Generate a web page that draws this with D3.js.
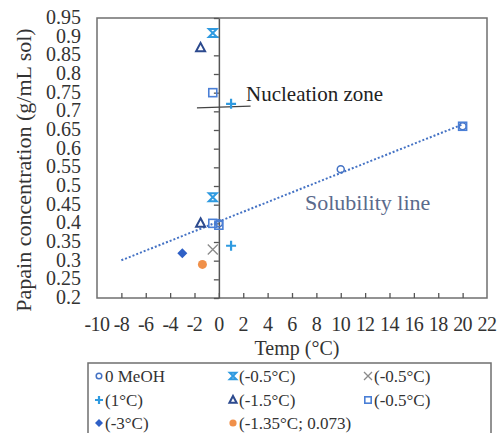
<!DOCTYPE html>
<html>
<head>
<meta charset="utf-8">
<script src="https://cdn.jsdelivr.net/npm/d3@7"></script>
<style>
	body { margin: 0; background: #fff; }
</style>
</head>
<body>
<svg id="chart" width="498" height="433"></svg>
<script>
// data
const meohTemp = [0, 10, 20];
const meohConc = [0.40, 0.545, 0.66];
const trendExtent = [-8, 20];

const bowtiePts = [[-0.5, 0.91], [-0.5, 0.47]];
const plusPts = [[1, 0.72], [1, 0.34]];
const trianglePts = [[-1.5, 0.87], [-1.5, 0.40]];
const squarePts = [[-0.5, 0.75], [-0.5, 0.40], [0, 0.395], [20, 0.66]];
const crossPts = [[-0.5, 0.33]];
const diamondPts = [[-3, 0.32]];
const orangePts = [[-1.35, 0.29]];

const nucleationLine = [[-1.8, 0.709], [2.6, 0.714]];

const xTicks = d3.range(-10, 23, 2);
const yTicks = [0.2, 0.25, 0.3, 0.35, 0.4, 0.45, 0.5, 0.55, 0.6, 0.65, 0.7, 0.75, 0.8, 0.85, 0.9, 0.95];

const legendItems = [
	{label: '0 MeOH', shape: 'circle'},
	{label: '(-0.5°C)', shape: 'bowtie'},
	{label: '(-0.5°C)', shape: 'cross'},
	{label: '(1°C)', shape: 'plus'},
	{label: '(-1.5°C)', shape: 'triangle'},
	{label: '(-0.5°C)', shape: 'square'},
	{label: '(-3°C)', shape: 'diamond'},
	{label: '(-1.35°C; 0.073)', shape: 'orange'}
];

const colors = {
	circle: '#4472c4',
	bowtie: '#2f9ae0',
	cross: '#8a8a8a',
	plus: '#2f9ae0',
	triangle: '#2c4a8e',
	square: '#4a7fd6',
	diamond: '#2f60c6',
	orange: '#f0904a'
};

const svg = d3.select('#chart');
const serif = '"Times New Roman", "Liberation Serif", Tinos, sans-serif';

const plotLeft = 97, plotRight = 487, plotTop = 18, plotBottom = 298;

let x = d3.scaleLinear().domain([-10, 22]).range([plotLeft, plotRight]);
let y = d3.scaleLinear().domain([0.2, 0.95]).range([plotBottom, plotTop]);

// plot frame
svg.append('rect')
	.attr('x', plotLeft).attr('y', plotTop)
	.attr('width', plotRight - plotLeft).attr('height', plotBottom - plotTop)
	.attr('fill', 'none')
	.attr('stroke', '#6f6f6f')
	.attr('stroke-width', 1.5);

// x axis (ticks pointing up, inside)
svg.append('g')
	.attr('transform', `translate(0,${plotBottom})`)
	.call(d3.axisBottom(x).tickValues(xTicks.slice(1, -1)).tickSizeInner(-5).tickSizeOuter(0).tickFormat(''))
	.call(g => g.select('.domain').remove())
	.call(g => g.selectAll('line').attr('stroke', '#555').attr('stroke-width', 1.3));

svg.append('g')
	.selectAll('text')
	.data(xTicks)
	.join('text')
	.attr('x', d => x(d))
	.attr('y', 331)
	.attr('text-anchor', 'middle')
	.style('font-family', serif)
	.style('font-size', '20px')
	.attr('fill', '#333')
	.attr('letter-spacing', -0.6)
	.text(d => d);

// y axis at x = 0
svg.append('g')
	.attr('transform', `translate(${x(0)},0)`)
	.call(d3.axisLeft(y).tickValues(yTicks).tickSizeInner(5).tickSizeOuter(0).tickFormat(''))
	.call(g => g.select('.domain').attr('stroke', '#555').attr('stroke-width', 1.5))
	.call(g => g.selectAll('line').attr('stroke', '#555').attr('stroke-width', 1.3));

svg.append('g')
	.selectAll('text')
	.data(yTicks)
	.join('text')
	.attr('x', 81)
	.attr('y', d => y(d) + 6)
	.attr('text-anchor', 'end')
	.style('font-family', serif)
	.style('font-size', '20px')
	.attr('fill', '#333')
	.text(d => d);

// titles
svg.append('text')
	.attr('x', 297).attr('y', 355)
	.attr('text-anchor', 'middle')
	.style('font-family', serif)
	.style('font-size', '20px')
	.attr('fill', '#333')
	.text('Temp (°C)');

svg.append('text')
	.attr('transform', 'translate(31,170) rotate(-90)')
	.attr('text-anchor', 'middle')
	.style('font-family', serif)
	.style('font-size', '22px')
	.attr('fill', '#333')
	.text('Papain concentration (g/mL sol)');

// trend line (least squares on 0 MeOH points)
const mx = d3.mean(meohTemp), my = d3.mean(meohConc);
const slope = d3.sum(meohTemp, (t, i) => (t - mx) * (meohConc[i] - my)) / d3.sum(meohTemp, t => (t - mx) ** 2);
const intercept = my - slope * mx;

svg.append('line')
	.attr('x1', x(trendExtent[0])).attr('y1', y(intercept + slope * trendExtent[0]))
	.attr('x2', x(trendExtent[1])).attr('y2', y(intercept + slope * trendExtent[1]))
	.attr('stroke', '#4472c4')
	.attr('stroke-width', 2)
	.attr('stroke-dasharray', '2,2');

// nucleation annotation
svg.append('line')
	.attr('x1', x(nucleationLine[0][0])).attr('y1', y(nucleationLine[0][1]))
	.attr('x2', x(nucleationLine[1][0])).attr('y2', y(nucleationLine[1][1]))
	.attr('stroke', '#444')
	.attr('stroke-width', 1.3);

svg.append('text')
	.attr('x', 246).attr('y', 101)
	.style('font-family', serif)
	.style('font-size', '21px')
	.attr('fill', '#222')
	.text('Nucleation zone');

svg.append('text')
	.attr('x', 305).attr('y', 210)
	.style('font-family', serif)
	.style('font-size', '22px')
	.attr('fill', '#5a6a8c')
	.text('Solubility line');

// marker drawing
function drawMarker(g, shape, s) {
	let c = colors[shape];
	if (shape === 'circle') {
		g.append('circle').attr('r', 3.5 * s).attr('fill', 'none').attr('stroke', c).attr('stroke-width', 1.5);
	} else if (shape === 'bowtie') {
		g.append('path')
			.attr('d', `M${-4*s},${-4*s}L${4*s},${-4*s}L${-4*s},${4*s}L${4*s},${4*s}Z`)
			.attr('fill', 'none').attr('stroke', c).attr('stroke-width', 2);
	} else if (shape === 'cross') {
		g.append('path')
			.attr('d', `M${-5*s},${-5*s}L${5*s},${5*s}M${-5*s},${5*s}L${5*s},${-5*s}`)
			.attr('stroke', c).attr('stroke-width', 1.3);
	} else if (shape === 'plus') {
		g.append('path')
			.attr('d', `M${-5*s},0L${5*s},0M0,${-5*s}L0,${5*s}`)
			.attr('stroke', c).attr('stroke-width', 2.2);
	} else if (shape === 'triangle') {
		g.append('path')
			.attr('d', `M0,${-5*s}L${4.5*s},${3.5*s}L${-4.5*s},${3.5*s}Z`)
			.attr('fill', 'none').attr('stroke', c).attr('stroke-width', 2);
	} else if (shape === 'square') {
		g.append('rect').attr('x', -4 * s).attr('y', -4 * s).attr('width', 8 * s).attr('height', 8 * s)
			.attr('fill', 'none').attr('stroke', c).attr('stroke-width', 1.6);
	} else if (shape === 'diamond') {
		g.append('path')
			.attr('d', `M0,${-5*s}L${5*s},0L0,${5*s}L${-5*s},0Z`)
			.attr('fill', c);
	} else if (shape === 'orange') {
		g.append('circle').attr('r', 4.5 * s).attr('fill', c);
	}
}

function plotSeries(points, shape) {
	svg.append('g')
		.selectAll('g')
		.data(points)
		.join('g')
		.attr('transform', d => `translate(${x(d[0])},${y(d[1])})`)
		.each(function() { drawMarker(d3.select(this), shape, 1); });
}

plotSeries(meohTemp.map((t, i) => [t, meohConc[i]]), 'circle');
plotSeries(squarePts, 'square');
plotSeries(bowtiePts, 'bowtie');
plotSeries(crossPts, 'cross');
plotSeries(plusPts, 'plus');
plotSeries(trianglePts, 'triangle');
plotSeries(diamondPts, 'diamond');
plotSeries(orangePts, 'orange');

// legend
const legend = svg.append('g');
legend.append('rect')
	.attr('x', 88).attr('y', 363)
	.attr('width', 403).attr('height', 90)
	.attr('fill', '#fff')
	.attr('stroke', '#6f6f6f')
	.attr('stroke-width', 1.5);

const colX = [99, 233, 368];
const rowY = [376, 400, 423];

let items = legend.selectAll('g.item')
	.data(legendItems)
	.join('g')
	.attr('class', 'item')
	.attr('transform', (d, i) => `translate(${colX[i % 3]},${rowY[Math.floor(i / 3)]})`);

items.each(function(d) { drawMarker(d3.select(this), d.shape, 0.8); });

items.append('text')
	.attr('x', 6)
	.attr('y', 6)
	.style('font-family', serif)
	.style('font-size', '17px')
	.attr('fill', '#333')
	.text(d => d.label);
</script>
</body>
</html>
